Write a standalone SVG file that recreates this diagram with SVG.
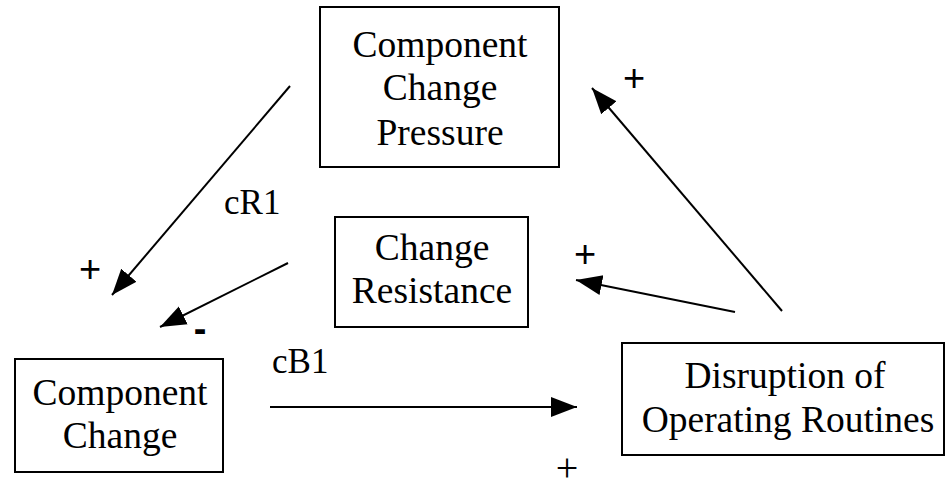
<svg xmlns="http://www.w3.org/2000/svg" width="946" height="486" viewBox="0 0 946 486">
  <style>
    .box { fill: #ffffff; stroke: #000000; stroke-width: 2; }
    .lbl { font-family: "Liberation Serif", "Times New Roman", serif; font-size: 37.5px; fill: #000000; text-anchor: middle; }
    .tag { font-family: "Liberation Serif", "Times New Roman", serif; font-size: 35px; fill: #000000; }
    .sign { font-family: "Liberation Sans", Arial, sans-serif; font-size: 38px; fill: #000000; text-anchor: middle; }
    .link { fill: none; stroke: #000000; stroke-width: 2; marker-end: url(#head); }
  </style>
  <defs>
    <marker id="head" markerUnits="userSpaceOnUse" markerWidth="28" markerHeight="22" refX="26" refY="11" orient="auto">
      <path d="M0,1 L26,11 L0,21 Z" fill="#000000"/>
    </marker>
  </defs>
  <rect width="946" height="486" fill="#ffffff"/>

  <g id="connectors">
    <line class="link" x1="290" y1="86" x2="112" y2="295"/>
    <line class="link" x1="288" y1="263" x2="160" y2="327"/>
    <line class="link" x1="270" y1="407" x2="577" y2="407"/>
    <line class="link" x1="735" y1="312" x2="576" y2="280"/>
    <line class="link" x1="782" y1="311" x2="592" y2="88"/>
  </g>

  <g id="component-change-pressure">
    <rect class="box" x="320" y="7" width="239" height="160"/>
    <text class="lbl" x="440" y="57">Component</text>
    <text class="lbl" x="440" y="100">Change</text>
    <text class="lbl" x="440" y="145">Pressure</text>
  </g>

  <g id="change-resistance">
    <rect class="box" x="335" y="217" width="193" height="110"/>
    <text class="lbl" x="432" y="260">Change</text>
    <text class="lbl" x="432" y="303">Resistance</text>
  </g>

  <g id="component-change">
    <rect class="box" x="15" y="359" width="208" height="113"/>
    <text class="lbl" x="120" y="405">Component</text>
    <text class="lbl" x="120" y="448">Change</text>
  </g>

  <g id="disruption-of-operating-routines">
    <rect class="box" x="622" y="343" width="322" height="112"/>
    <text class="lbl" x="785" y="388">Disruption of</text>
    <text class="lbl" x="788" y="432">Operating Routines</text>
  </g>

  <g id="labels">
    <text class="tag" x="224" y="214">cR1</text>
    <text class="tag" x="272" y="373">cB1</text>
    <text class="sign" x="90" y="282">+</text>
    <text class="sign" x="200" y="342" font-weight="bold">-</text>
    <text class="sign" x="585" y="267">+</text>
    <text class="sign" x="634" y="91">+</text>
    <text x="567" y="481" font-family="Liberation Serif, serif" font-size="40px" text-anchor="middle">+</text>
  </g>
</svg>
